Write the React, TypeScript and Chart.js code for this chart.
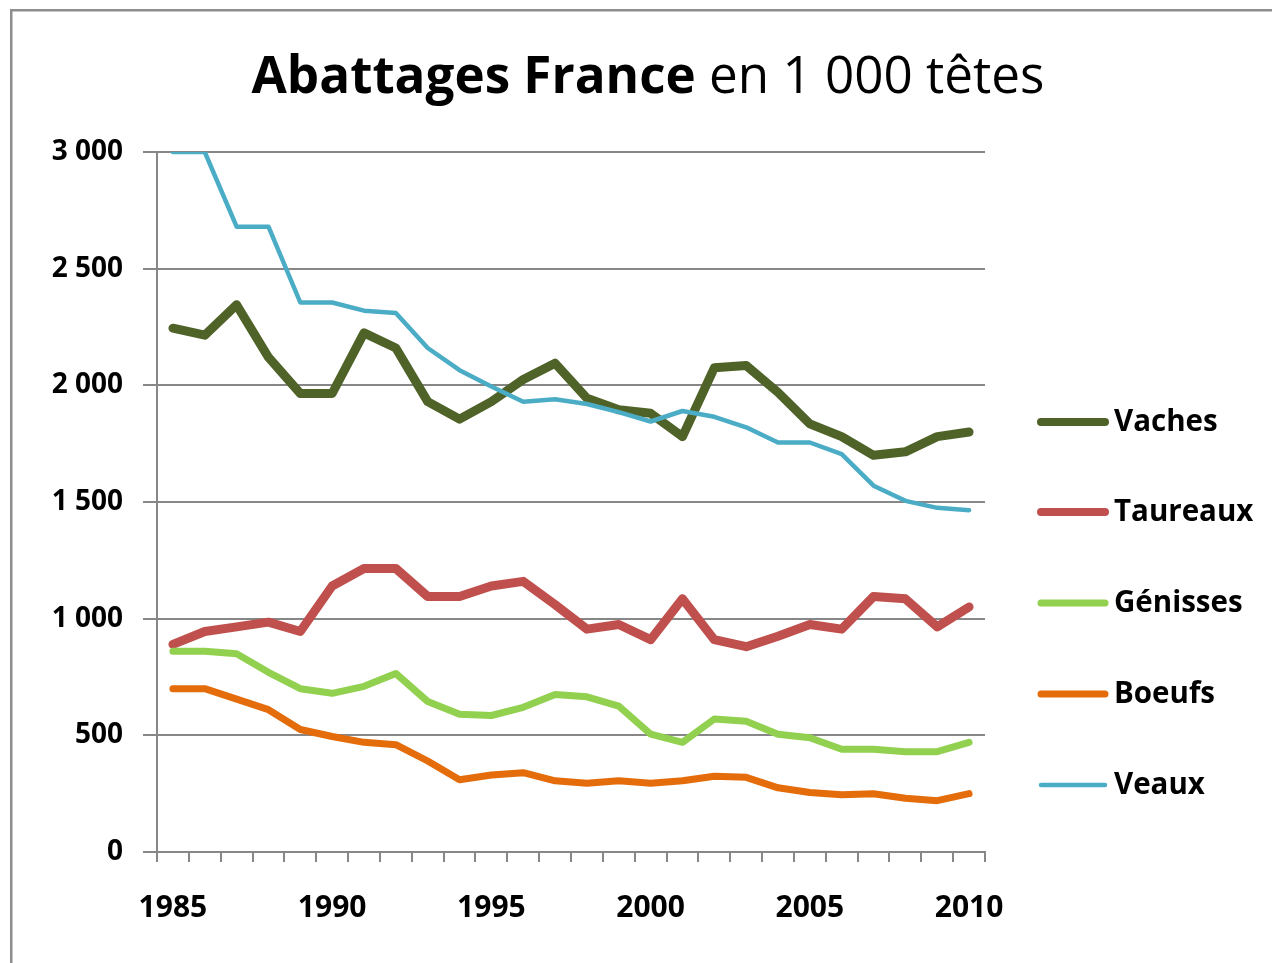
import React, { useEffect, useRef } from "react";
import { Chart, registerables } from "chart.js";

Chart.register(...registerables);

const years = ["1985","1986","1987","1988","1989","1990","1991","1992","1993","1994","1995","1996","1997","1998","1999","2000","2001","2002","2003","2004","2005","2006","2007","2008","2009","2010"];
const vaches = [2245,2215,2345,2120,1965,1965,2225,2160,1930,1855,1930,2025,2095,1945,1895,1880,1780,2075,2085,1970,1835,1780,1700,1715,1780,1800];
const taureaux = [890,945,965,985,945,1140,1215,1215,1095,1095,1140,1160,1060,955,975,910,1085,910,880,925,975,955,1095,1085,965,1050];
const genisses = [860,860,850,770,700,680,710,765,645,590,585,620,675,665,625,505,470,570,560,505,490,440,440,430,430,470];
const boeufs = [700,700,655,610,525,495,470,460,390,310,330,340,305,295,305,295,305,325,320,275,255,245,250,230,220,250];
const veaux = [3000,3000,2680,2680,2355,2355,2320,2310,2160,2065,1995,1930,1940,1920,1885,1845,1890,1865,1820,1755,1755,1705,1570,1505,1475,1465];

const seriesNames = ["Vaches", "Taureaux", "Génisses", "Boeufs", "Veaux"];
const seriesColors = ["#4f6228", "#c0504d", "#92d050", "#e46c0a", "#4bacc6"];
const seriesWidths = [9, 9, 7, 7, 4.5];
const titleBold = "Abattages France";
const titleNormal = " en 1 000 têtes";
const FONT = "'Open Sans', 'Noto Sans', sans-serif";
const GRID = "#878787";

const fmt = (v: number) => {
  if (v >= 1000) {
    const th = Math.floor(v / 1000);
    const rest = String(v % 1000).padStart(3, "0");
    return th + " " + rest;
  }
  return String(v);
};

const decorPlugin = {
  id: "decor",
  beforeDraw(chart: any) {
    const ctx = chart.ctx;
    ctx.save();
    ctx.fillStyle = "#8e8e8e";
    ctx.fillRect(10, 9, chart.width - 10, 2.5);
    ctx.fillRect(10, 9, 2.5, chart.height - 9);
    ctx.restore();
  },
  afterDraw(chart: any) {
    const ctx = chart.ctx;
    ctx.save();
    let size = 56;
    const target = 793;
    const measure = (s: number) => {
      ctx.font = `bold ${s}px ${FONT}`;
      const a = ctx.measureText(titleBold).width;
      ctx.font = `normal ${s}px ${FONT}`;
      const b = ctx.measureText(titleNormal).width;
      return [a, b];
    };
    let [wa, wb] = measure(size);
    size = Math.min(56, (size * target) / (wa + wb));
    [wa, wb] = measure(size);
    const startX = 648 - (wa + wb) / 2;
    ctx.textBaseline = "alphabetic";
    ctx.fillStyle = "#000";
    ctx.textAlign = "left";
    ctx.font = `bold ${size}px ${FONT}`;
    ctx.fillText(titleBold, startX, 93);
    ctx.font = `normal ${size}px ${FONT}`;
    ctx.fillText(titleNormal, startX + wa, 93);

    const ys = [422, 512, 603, 694, 785];
    chart.data.datasets.forEach((ds: any, i: number) => {
      const y = ys[i];
      ctx.strokeStyle = ds.borderColor;
      ctx.lineWidth = Math.min(ds.borderWidth, 8);
      ctx.lineCap = "round";
      ctx.beginPath();
      ctx.moveTo(1041, y);
      ctx.lineTo(1105, y);
      ctx.stroke();
      ctx.fillStyle = "#000";
      ctx.font = `bold 29.5px ${FONT}`;
      ctx.textBaseline = "middle";
      ctx.fillText(ds.label, 1114, y + 1);
    });
    ctx.restore();
  },
};

export default function App() {
  const ref = useRef<HTMLCanvasElement | null>(null);
  useEffect(() => {
    if (!ref.current) return;
    const seriesData = [vaches, taureaux, genisses, boeufs, veaux];
    const chart = new Chart(ref.current, {
      type: "line",
      data: {
        labels: years,
        datasets: seriesData.map((d, i) => ({
          label: seriesNames[i],
          data: d,
          borderColor: seriesColors[i],
          backgroundColor: seriesColors[i],
          borderWidth: seriesWidths[i],
          pointRadius: 0,
          tension: 0,
          borderJoinStyle: "round" as const,
          borderCapStyle: "round" as const,
          order: 5 - i,
        })),
      },
      options: {
        animation: false,
        responsive: false,
        layout: { padding: { left: 0, top: 152, right: 287, bottom: 0 } },
        plugins: {
          legend: { display: false },
          title: { display: false },
          tooltip: { enabled: false },
        },
        scales: {
          x: {
            type: "category",
            offset: true,
            afterFit: (s: any) => { s.height = 111; },
            grid: {
              offset: true,
              drawOnChartArea: false,
              drawTicks: true,
              tickLength: 10,
              color: GRID,
              lineWidth: 2,
            },
            border: { display: true, color: GRID, width: 2 },
            ticks: {
              autoSkip: false,
              maxRotation: 0,
              minRotation: 0,
              padding: 28,
              color: "#000",
              font: { family: FONT, size: 30, weight: "bold" },
              callback: (_v: any, idx: number) => (Number(years[idx]) % 5 === 0 ? years[idx] : ""),
            },
          },
          y: {
            min: 0,
            max: 3000,
            afterFit: (s: any) => { s.width = 157; },
            grid: {
              color: GRID,
              lineWidth: 2,
              tickLength: 14,
            },
            border: { display: true, color: GRID, width: 2 },
            ticks: {
              stepSize: 500,
              padding: 20,
              color: "#000",
              font: { family: FONT, size: 28, weight: "bold" },
              callback: (v: any) => fmt(Number(v)),
            },
          },
        },
      },
      plugins: [decorPlugin],
    });
    return () => chart.destroy();
  }, []);
  return (
    <div style={{ position: "absolute", left: 0, top: 0, width: 1272, height: 963, background: "#fff" }}>
      <canvas ref={ref} width={1272} height={963} style={{ display: "block" }} />
    </div>
  );
}
